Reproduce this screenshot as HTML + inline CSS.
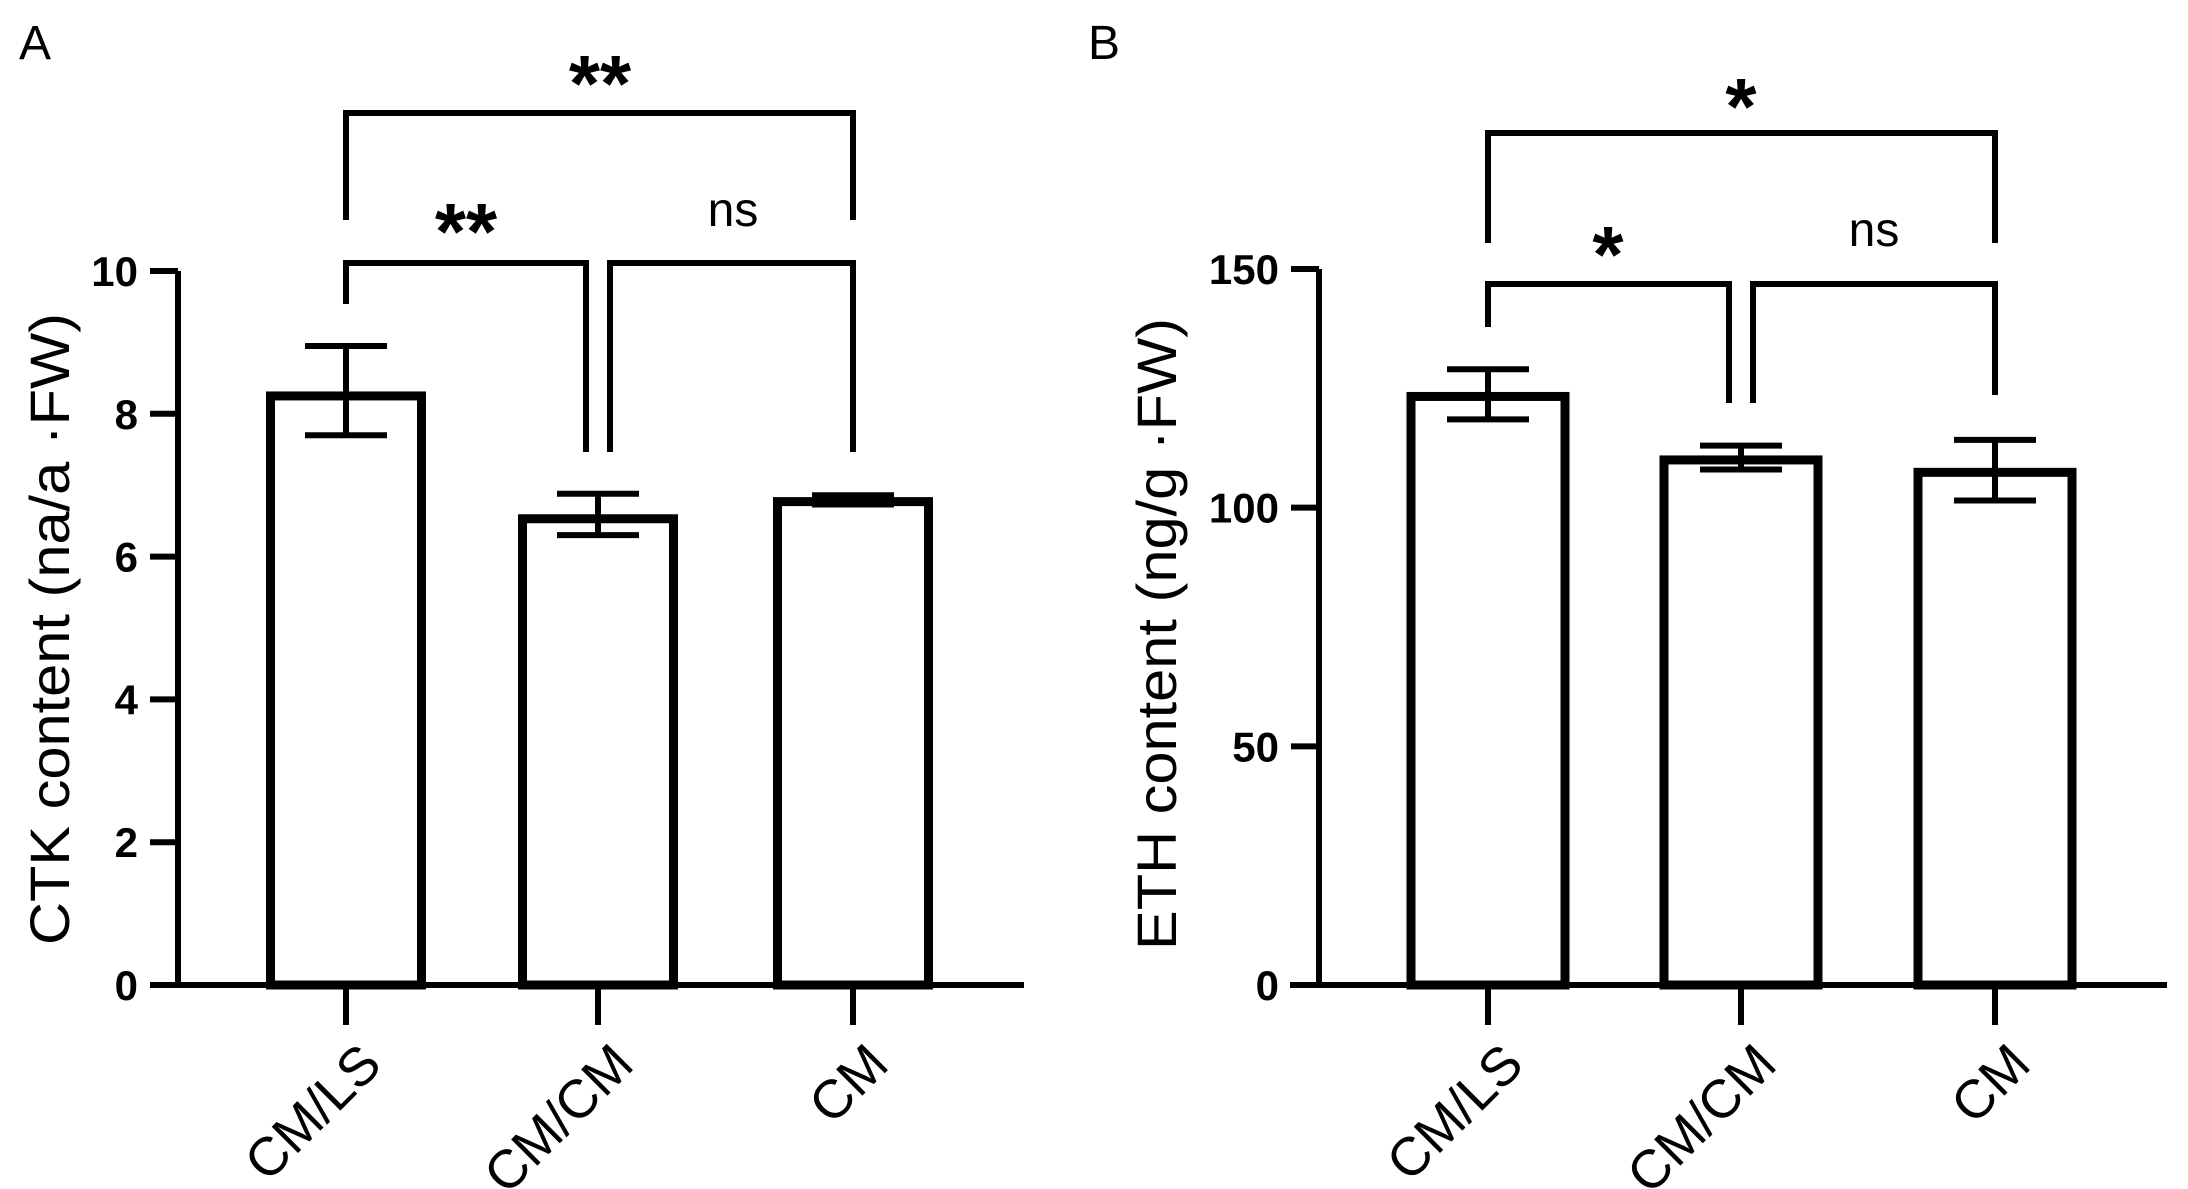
<!DOCTYPE html>
<html><head><meta charset="utf-8"><style>
html,body{margin:0;padding:0;background:#fff;}
svg{display:block;font-family:"Liberation Sans",Arial,sans-serif;}
</style></head><body>
<svg id="chart" width="2188" height="1189" viewBox="0 0 2188 1189" xmlns="http://www.w3.org/2000/svg"></svg>
<script>
const categories = ["CM/LS", "CM/CM", "CM"];
const ctkMeans = [8.25, 6.53, 6.77];
const ctkErrHigh = [8.95, 6.88, 6.86];
const ctkErrLow = [7.7, 6.3, 6.73];
const ctkTicks = [0, 2, 4, 6, 8, 10];
const ethMeans = [123.3, 110, 107.4];
const ethErrHigh = [129, 113, 114.2];
const ethErrLow = [118.5, 108, 101.5];
const ethTicks = [0, 50, 100, 150];
const ctkSig = ["**", "**", "ns"];
const ethSig = ["*", "*", "ns"];

const NS = "http://www.w3.org/2000/svg";
const svg = document.getElementById("chart");
function mk(tag, attrs, parent, text){
  const e = document.createElementNS(NS, tag);
  for (const k in attrs) e.setAttribute(k, attrs[k]);
  if (text !== undefined) e.textContent = text;
  (parent || svg).appendChild(e);
  return e;
}

function panel(cfg){
  const g = mk("g", {});
  
  
  const y = v => cfg.y0 - (v - cfg.ymin) / (cfg.ymax - cfg.ymin) * (cfg.y0 - cfg.yTop);
  const xc = i => cfg.xc[i];
  const lw = 9;

  const lab = mk("text", {x: cfg.labX, y: 59, "font-size": 48}, g, cfg.label);
  
  

  categories.forEach((c, i) => {
    const top = y(cfg.means[i]);
    const bar = mk("rect", {x: xc(i) - cfg.bw/2 + lw/2, y: top, width: cfg.bw - lw, height: cfg.y0 - top, fill: "#fff", stroke: "#000", "stroke-width": lw}, g);
    
    
    const eb = mk("path", {d: `M${xc(i)} ${y(cfg.hi[i])}V${y(cfg.lo[i])}M${xc(i)-41} ${y(cfg.hi[i])}H${xc(i)+41}M${xc(i)-41} ${y(cfg.lo[i])}H${xc(i)+41}`, stroke: "#000", "stroke-width": 6, fill: "none"}, g);
    
    
  });

  const ax = mk("path", {d: `M${cfg.ax} ${cfg.yTop}V${cfg.y0}M${cfg.xStart} ${cfg.y0}H${cfg.xEnd}`, stroke: "#000", "stroke-width": 6, fill: "none"}, g);
  
  
  cfg.ticks.forEach(t => {
    const tk = mk("path", {d: `M${cfg.ax-28} ${y(t)}H${cfg.ax}`, stroke: "#000", "stroke-width": 6}, g);
    
    
    const tl = mk("text", {x: cfg.ax - 40, y: y(t) + 15, "text-anchor": "end", "font-size": 42, "font-weight": "bold"}, g, String(t));
    
    
  });
  categories.forEach((c, i) => {
    const tk = mk("path", {d: `M${xc(i)} ${cfg.y0}V${cfg.y0+40}`, stroke: "#000", "stroke-width": 6}, g);
    
    
    const ax0 = xc(i) + 38, ay0 = cfg.y0 + 82;
    const tl = mk("text", {x: ax0, y: ay0, "text-anchor": "end", "font-size": 54, transform: `rotate(-45 ${ax0} ${ay0})`}, g, c);
    
    
  });
  const yt = mk("text", {x: 0, y: 0, "text-anchor": "middle", "font-size": 56, textLength: 632, lengthAdjust: "spacingAndGlyphs", transform: `translate(${cfg.titleX} ${cfg.titleY}) rotate(-90)`}, g, cfg.title);
  
  

  const b = cfg.br;
  function bracket(x1, x2, yb, l1, l2, txt, tx, cy){
    const p = mk("path", {d: `M${x1} ${l1}V${yb}H${x2}V${l2}`, stroke: "#000", "stroke-width": 6, fill: "none"}, g);
    
    
    const star = txt !== "ns";
    const t = mk("text", {x: tx, y: star ? cy + 45 : cy + 16, "text-anchor": "middle", "font-size": star ? 80 : 48, "font-weight": star ? "bold" : "normal"}, g, txt);
    
    
  }
  bracket(xc(0), xc(2), b.topY, b.topLeg, b.topLeg, cfg.sig[0], b.topX, b.topC);
  bracket(xc(0), xc(1) - 12, b.lowY, b.lowLegL, b.lowLegM, cfg.sig[1], b.lowX, b.lowC);
  bracket(xc(1) + 12, xc(2), b.lowY, b.lowLegM, b.lowLegR, cfg.sig[2], b.nsX, b.nsC);
}

panel({name: "panel-a-ctk", label: "A", labX: 19, ymin: 0, ymax: 10, y0: 985, yTop: 271,
  ax: 178, xStart: 150, xEnd: 1024, xc: [346, 598, 853], bw: 160,
  means: ctkMeans, hi: ctkErrHigh, lo: ctkErrLow, ticks: ctkTicks,
  title: "CTK content (na/a ·FW)", titleX: 69, titleY: 629, sig: ctkSig,
  br: {topY: 113, topLeg: 220, topX: 600, topC: 66, lowY: 263, lowLegL: 304, lowLegM: 452, lowLegR: 452, lowX: 466, lowC: 214, nsX: 733, nsC: 210}});

panel({name: "panel-b-eth", label: "B", labX: 1088, ymin: 0, ymax: 150, y0: 985, yTop: 269,
  ax: 1319, xStart: 1290, xEnd: 2167, xc: [1488, 1741, 1995], bw: 163,
  means: ethMeans, hi: ethErrHigh, lo: ethErrLow, ticks: ethTicks,
  title: "ETH content (ng/g ·FW)", titleX: 1176, titleY: 634, sig: ethSig,
  br: {topY: 133, topLeg: 243, topX: 1741, topC: 89, lowY: 284, lowLegL: 327, lowLegM: 403, lowLegR: 395, lowX: 1608, lowC: 237, nsX: 1874, nsC: 230}});
</script>
</body></html>
